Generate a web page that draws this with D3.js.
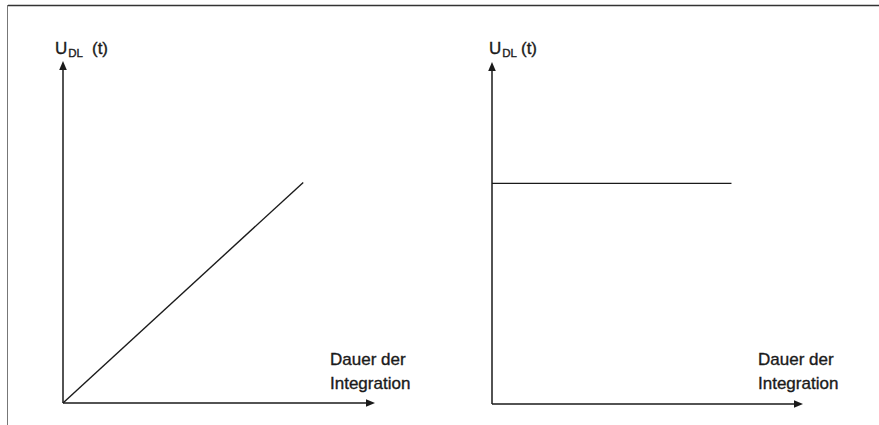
<!DOCTYPE html>
<html>
<head>
<meta charset="utf-8">
<script src="https://cdn.jsdelivr.net/npm/d3@7"></script>
<style>
  body { margin: 0; background: #fff; }
  svg { display: block; font-family: "Liberation Sans", Arial, sans-serif; }
  text { stroke: #1a1a1a; stroke-width: 0.35px; }
</style>
</head>
<body>
<div id="chart"></div>
<script>
// Data for the two sketches (arbitrary units, axis runs 0..10)
const panelNames = ["linear", "constant"];
const timeValues = [0, 7.7];
const linearValues = [0, 6.45];
const constantValues = [6.45, 6.45];
const yLabelMain = "U";
const yLabelSub = "DL";
const yLabelTail = "(t)";
const xLabelLines = ["Dauer der", "Integration"];

const width = 879, height = 425;

const svg = d3.select("#chart")
    .append("svg")
    .attr("width", width)
    .attr("height", height);

// frame lines (top and left only)
svg.append("line")
    .attr("x1", 8).attr("x2", 879)
    .attr("y1", 5.5).attr("y2", 5.5)
    .attr("stroke", "#333").attr("stroke-width", 1.5);
svg.append("line")
    .attr("x1", 7.5).attr("x2", 7.5)
    .attr("y1", 5).attr("y2", 425)
    .attr("stroke", "#777").attr("stroke-width", 1);

// panel placement
const panels = [
    { name: panelNames[0], x0: 63, y0: 403, w: 312, h: 342, values: linearValues, labelX: 55, labelGap: 9, textX: 330 },
    { name: panelNames[1], x0: 492, y0: 404, w: 311, h: 342, values: constantValues, labelX: 489, labelGap: 4, textX: 758 }
];

const ink = "#1a1a1a";

panels.forEach(p => {
    const x = d3.scaleLinear().domain([0, 10]).range([p.x0, p.x0 + p.w]);
    const y = d3.scaleLinear().domain([0, 10]).range([p.y0, p.y0 - p.h]);
    const g = svg.append("g");

    // axes with arrow heads
    g.append("line")
        .attr("x1", x(0)).attr("x2", x(10) - 6)
        .attr("y1", y(0)).attr("y2", y(0))
        .attr("stroke", ink).attr("stroke-width", 1.5);
    g.append("path")
        .attr("d", `M${x(10)},${y(0)} L${x(10) - 9},${y(0) - 3.8} L${x(10) - 9},${y(0) + 3.8} Z`)
        .attr("fill", ink);

    g.append("line")
        .attr("x1", x(0)).attr("x2", x(0))
        .attr("y1", y(0)).attr("y2", y(10) + 6)
        .attr("stroke", ink).attr("stroke-width", 1.5);
    g.append("path")
        .attr("d", `M${x(0)},${y(10)} L${x(0) - 3.8},${y(10) + 9} L${x(0) + 3.8},${y(10) + 9} Z`)
        .attr("fill", ink);

    // the curve
    const line = d3.line()
        .x((d, i) => x(timeValues[i]))
        .y(d => y(d));
    g.append("path")
        .datum(p.values)
        .attr("d", line)
        .attr("fill", "none")
        .attr("stroke", ink)
        .attr("stroke-width", 1.4);

    // y label U_DL (t)
    const yl = g.append("text")
        .attr("x", p.labelX)
        .attr("y", 54)
        .attr("fill", ink)
        .style("font-size", "17px");
    yl.append("tspan").text(yLabelMain);
    yl.append("tspan")
        .attr("dx", 1)
        .attr("dy", 3)
        .style("font-size", "11.5px")
        .text(yLabelSub);
    yl.append("tspan")
        .attr("dx", p.labelGap)
        .attr("dy", -3)
        .text(yLabelTail);

    // x label
    xLabelLines.forEach((t, i) => {
        g.append("text")
            .attr("x", p.textX)
            .attr("y", 365 + i * 24)
            .attr("fill", ink)
            .style("font-size", "17px")
            .text(t);
    });
});
</script>
</body>
</html>
